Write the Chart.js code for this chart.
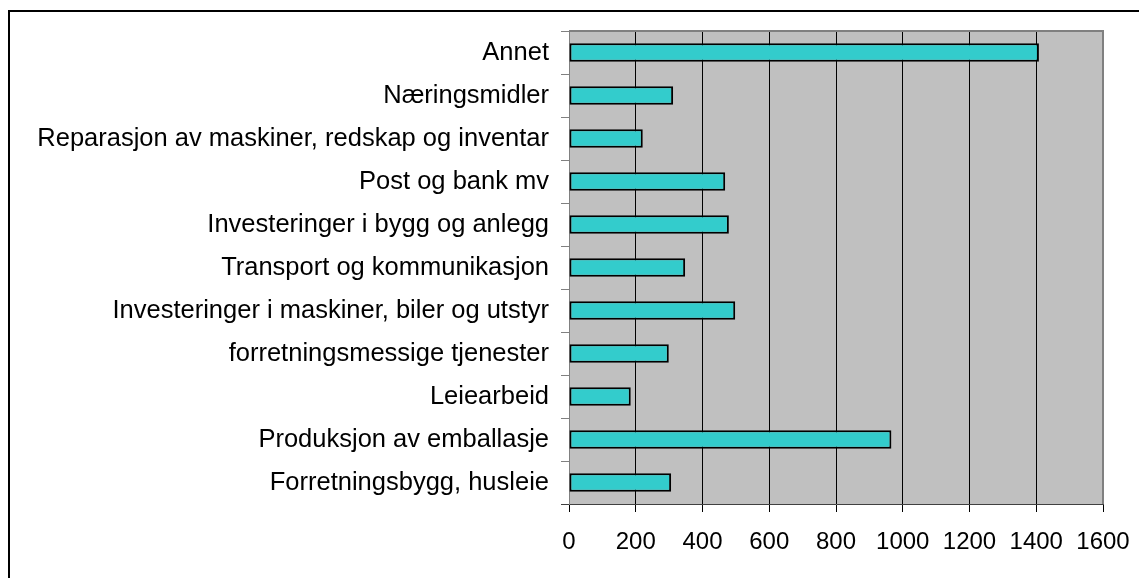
<!DOCTYPE html>
<html>
<head>
<meta charset="utf-8">
<script src="https://cdn.jsdelivr.net/npm/chart.js@4/dist/chart.umd.min.js"></script>
<style>
  body { margin: 0; background: #fff; }
  #wrap { position: relative; width: 1139px; height: 578px; overflow: hidden; }
  #frame { position: absolute; left: 8px; top: 10px; width: 1200px; height: 700px;
           border-left: 2px solid #000; border-top: 2px solid #000; }
  canvas { position: absolute; left: 0; top: 0; }
</style>
</head>
<body>
<div id="wrap">
  <div id="frame"></div>
  <canvas id="chart" width="1139" height="578"></canvas>
</div>
<script>
const categories = [
  "Annet",
  "Næringsmidler",
  "Reparasjon av maskiner, redskap og inventar",
  "Post og bank mv",
  "Investeringer i bygg og anlegg",
  "Transport og kommunikasjon",
  "Investeringer i maskiner, biler og utstyr",
  "forretningsmessige tjenester",
  "Leiearbeid",
  "Produksjon av emballasje",
  "Forretningsbygg, husleie"
];
const values = [1408, 312, 221, 468, 479, 348, 498, 299, 185, 966, 306];
const xTicks = [0, 200, 400, 600, 800, 1000, 1200, 1400, 1600];

// plot area background and gray top/right edge
const plotFrame = {
  id: "plotFrame",
  beforeDraw(chart) {
    const a = chart.chartArea;
    const ctx = chart.ctx;
    ctx.save();
    ctx.fillStyle = "#c0c0c0";
    ctx.fillRect(a.left, a.top, a.right - a.left, a.bottom - a.top);
    ctx.restore();
  },
  afterDraw(chart) {
    const a = chart.chartArea;
    const ctx = chart.ctx;
    ctx.save();
    ctx.strokeStyle = "#808080";
    ctx.lineWidth = 2;
    ctx.beginPath();
    ctx.moveTo(a.left, a.top);
    ctx.lineTo(a.right, a.top);
    ctx.lineTo(a.right, a.bottom);
    ctx.stroke();
    // x axis line runs out under the y ticks
    ctx.strokeStyle = "#404040";
    ctx.lineWidth = 1;
    ctx.beginPath();
    ctx.moveTo(a.left - 8, a.bottom + 0.5);
    ctx.lineTo(a.left, a.bottom + 0.5);
    ctx.stroke();
    ctx.restore();
  }
};

const family = "'Liberation Sans', Arial, sans-serif";

new Chart(document.getElementById("chart"), {
  type: "bar",
  data: {
    labels: categories,
    datasets: [{
      data: values,
      backgroundColor: "#33cccc",
      borderColor: "#000",
      borderWidth: 2,
      borderSkipped: false,
      barPercentage: 0.43,
      categoryPercentage: 1
    }]
  },
  options: {
    indexAxis: "y",
    responsive: false,
    animation: false,
    layout: { padding: { top: 31, right: 36, left: 0, bottom: 0 } },
    plugins: { legend: { display: false }, tooltip: { enabled: false } },
    scales: {
      x: {
        min: 0,
        max: 1600,
        afterBuildTicks: s => { s.ticks = xTicks.map(v => ({ value: v })); },
        afterFit: s => {
          s.height = 74;
          s.paddingLeft = 0;
          s.paddingRight = 0;
        },
        grid: { color: "#000", lineWidth: 1, tickLength: 8, tickColor: "#000" },
        border: { color: "#404040", width: 1 },
        ticks: {
          color: "#000",
          font: { family: family, size: 24 },
          padding: 16,
          maxRotation: 0,
          callback: v => String(v)
        }
      },
      y: {
        afterFit: s => {
          s.width = 569;
          s.paddingTop = 0;
          s.paddingBottom = 0;
        },
        grid: { drawOnChartArea: false, tickLength: 8, tickColor: "#808080", offset: true },
        border: { color: "#808080", width: 1 },
        ticks: { color: "#000", font: { family: family, size: 25.5 }, padding: 12, autoSkip: false }
      }
    }
  },
  plugins: [plotFrame]
});
</script>
</body>
</html>
